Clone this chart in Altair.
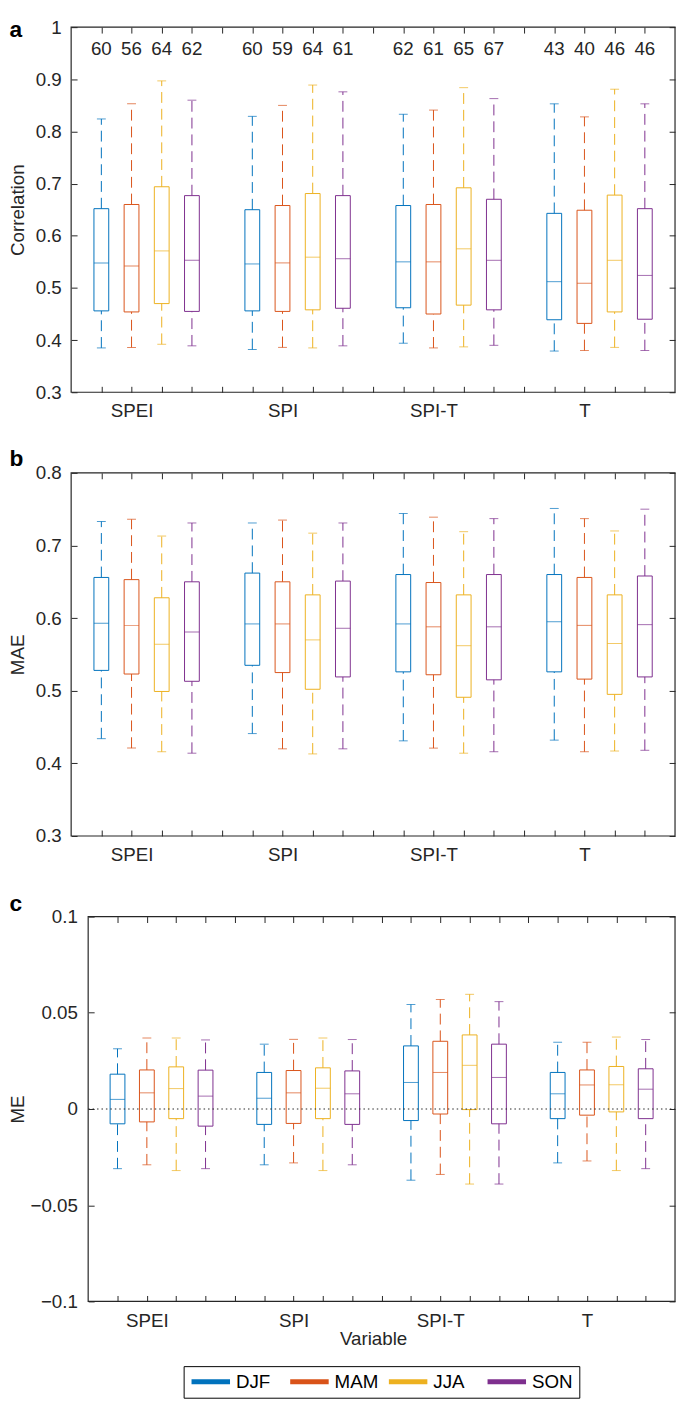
import altair as alt
import pandas as pd

groups = ["SPEI", "SPI", "SPI-T", "T"]
seasons = ["DJF", "MAM", "JJA", "SON"]
season_colors = ["#0072BD", "#D95319", "#EDB120", "#7E2F8E"]

# ---- panel a: Correlation (rows = groups, cols = seasons)
corr_n = [[60, 56, 64, 62], [60, 59, 64, 61], [62, 61, 65, 67], [43, 40, 46, 46]]
corr_hi = [[0.824, 0.853, 0.897, 0.860], [0.829, 0.850, 0.889, 0.876],
           [0.833, 0.841, 0.884, 0.863], [0.853, 0.828, 0.881, 0.853]]
corr_q3 = [[0.652, 0.660, 0.694, 0.677], [0.650, 0.658, 0.681, 0.677],
           [0.658, 0.660, 0.692, 0.670], [0.643, 0.649, 0.678, 0.652]]
corr_med = [[0.548, 0.542, 0.571, 0.553], [0.546, 0.548, 0.559, 0.556],
            [0.550, 0.550, 0.575, 0.553], [0.512, 0.509, 0.553, 0.524]]
corr_q1 = [[0.456, 0.454, 0.470, 0.455], [0.456, 0.455, 0.458, 0.461],
           [0.462, 0.450, 0.467, 0.458], [0.439, 0.432, 0.454, 0.440]]
corr_lo = [[0.385, 0.386, 0.392, 0.389], [0.382, 0.386, 0.385, 0.389],
           [0.394, 0.385, 0.387, 0.390], [0.379, 0.380, 0.386, 0.380]]

# ---- panel b: MAE
mae_hi = [[0.733, 0.736, 0.713, 0.731], [0.731, 0.735, 0.717, 0.731],
          [0.744, 0.739, 0.719, 0.737], [0.751, 0.737, 0.720, 0.750]]
mae_q3 = [[0.656, 0.653, 0.628, 0.650], [0.662, 0.650, 0.632, 0.651],
          [0.660, 0.649, 0.632, 0.660], [0.660, 0.656, 0.632, 0.658]]
mae_med = [[0.593, 0.590, 0.564, 0.581], [0.592, 0.592, 0.570, 0.586],
           [0.592, 0.588, 0.562, 0.588], [0.595, 0.590, 0.565, 0.591]]
mae_q1 = [[0.528, 0.523, 0.499, 0.513], [0.535, 0.525, 0.502, 0.519],
          [0.526, 0.522, 0.491, 0.515], [0.526, 0.516, 0.495, 0.519]]
mae_lo = [[0.434, 0.421, 0.416, 0.414], [0.441, 0.420, 0.413, 0.420],
          [0.431, 0.421, 0.414, 0.416], [0.432, 0.416, 0.417, 0.418]]

# ---- panel c: ME
me_hi = [[0.0313, 0.0369, 0.0369, 0.0359], [0.0337, 0.0362, 0.0369, 0.0361],
         [0.0543, 0.0569, 0.0596, 0.0558], [0.0347, 0.0347, 0.0374, 0.0361]]
me_q3 = [[0.0181, 0.0203, 0.0219, 0.0202], [0.0190, 0.0200, 0.0214, 0.0198],
         [0.0328, 0.0352, 0.0385, 0.0337], [0.0190, 0.0203, 0.0221, 0.0209]]
me_med = [[0.0050, 0.0084, 0.0106, 0.0067], [0.0056, 0.0084, 0.0108, 0.0079],
          [0.0138, 0.0190, 0.0227, 0.0164], [0.0079, 0.0125, 0.0126, 0.0103]]
me_q1 = [[-0.0077, -0.0067, -0.0050, -0.0089], [-0.0080, -0.0075, -0.0050, -0.0080],
         [-0.0060, -0.0026, -0.0003, -0.0077], [-0.0050, -0.0032, -0.0015, -0.0050]]
me_lo = [[-0.031, -0.029, -0.032, -0.031], [-0.029, -0.028, -0.032, -0.029],
         [-0.037, -0.034, -0.039, -0.039], [-0.028, -0.027, -0.032, -0.031]]

corr_ticks = [0.3, 0.4, 0.5, 0.6, 0.7, 0.8, 0.9, 1.0]
mae_ticks = [0.3, 0.4, 0.5, 0.6, 0.7, 0.8]
me_ticks = [-0.1, -0.05, 0, 0.05, 0.1]

FONT = "Liberation Sans"
AX = "#262626"
FS = 19


def box_table(hi, q3, med, q1, lo, n=None):
    rows = []
    for gi, g in enumerate(groups):
        for si, s in enumerate(seasons):
            r = {"variable": g, "season": s, "pos": 5 * gi + si + 1,
                 "hi": hi[gi][si], "q3": q3[gi][si], "med": med[gi][si],
                 "q1": q1[gi][si], "lo": lo[gi][si]}
            if n is not None:
                r["n"] = n[gi][si]
            rows.append(r)
    return pd.DataFrame(rows)


label_pos = [5 * gi + 2 for gi in range(len(groups))]
label_expr = " : ".join(f"datum.value == {p} ? '{g}'" for p, g in zip(label_pos, groups)) + " : ''"
tick_pos = list(range(1, 5 * len(groups)))

season_scale = alt.Scale(domain=seasons, range=season_colors)
season_legend = alt.Legend(
    orient="none", legendX=114, legendY=1357, direction="horizontal",
    title=None, symbolType="M-3.9,0L3.9,0", symbolSize=100, symbolStrokeWidth=5,
    symbolOffset=12, labelOffset=16, labelFontSize=FS, labelFont=FONT,
    labelColor="black", strokeColor="black", fillColor="white", padding=6,
    columnPadding=0, gridAlign="all", symbolOpacity=1)


def season_color():
    return alt.Color("season:N", scale=season_scale, legend=season_legend)


def panel(df, ydom, yvals, yfmt, ytitle, letter, height, letter_y, xlo=0.0, yoff=0.0,
          ylabpad=10, xtitle=None, counts=False, zero=False):
    xs = alt.Scale(domain=[xlo, 20], nice=False, zero=False, padding=0)
    ys = alt.Scale(domain=ydom, nice=False, zero=False, padding=0)

    frame_df = pd.DataFrame({"x0": [0], "x1": [20], "y0": [ydom[0]], "y1": [ydom[1]]})
    xlab_kw = dict(orient="bottom", values=label_pos, labelExpr=label_expr, ticks=False,
                   tickSize=0, domain=False, grid=False, labelFontSize=FS, labelPadding=10,
                   labelColor=AX, labelFont=FONT)
    if xtitle:
        xlab_kw.update(title=xtitle, titleFontSize=FS, titleFontWeight="normal",
                       titlePadding=0, titleColor=AX, titleFont=FONT)
    else:
        xlab_kw.update(title=None)
    frame = alt.Chart(frame_df).mark_rect(fillOpacity=0, stroke=AX, strokeWidth=1.2).encode(
        x=alt.X("x0:Q", scale=xs, axis=alt.Axis(**xlab_kw)),
        x2="x1:Q",
        y=alt.Y("y0:Q", scale=ys, axis=alt.Axis(
            orient="left", values=yvals, format=yfmt, ticks=False, tickSize=0,
            domain=False, grid=False, labelFontSize=FS, labelPadding=ylabpad,
            labelColor=AX, labelFont=FONT, offset=yoff, title=ytitle,
            titleFontSize=FS, titleFontWeight="normal", titleColor=AX, titleFont=FONT,
            titleAngle=270, titleBaseline="bottom", titleAlign="center",
            titleX=-44 + yoff, titleY=height / 2)),
        y2="y1:Q",
    )

    tick_kw = dict(values=tick_pos, labels=False, domain=False, grid=False, ticks=True,
                   tickSize=6, tickColor=AX, tickWidth=1, title=None)
    ytick_kw = dict(values=yvals, labels=False, domain=False, grid=False, ticks=True,
                    tickSize=6, tickColor=AX, tickWidth=1)

    upper = alt.Chart(df).mark_rule(strokeDash=[11, 6], strokeWidth=1).encode(
        x=alt.X("pos:Q", scale=xs, axis=alt.Axis(orient="bottom", offset=-6, **tick_kw)),
        y=alt.Y("q3:Q", scale=ys, axis=alt.Axis(
            orient="left", offset=yoff - 6, title=letter, titleAngle=0, titleAlign="left",
            titleBaseline="alphabetic", titleFontSize=23, titleFontWeight="bold",
            titleColor="black", titleFont=FONT, titleX=-69 + yoff, titleY=letter_y,
            **ytick_kw)),
        y2="hi:Q", color=season_color())
    lower = alt.Chart(df).mark_rule(strokeDash=[11, 6], strokeWidth=1).encode(
        x=alt.X("pos:Q", scale=xs, axis=alt.Axis(orient="top", offset=-6, **tick_kw)),
        y=alt.Y("lo:Q", scale=ys, axis=alt.Axis(orient="right", offset=-6, title=None, **ytick_kw)),
        y2="q1:Q", color=season_color())

    xn = alt.X("pos:Q", scale=xs, axis=None)
    box = alt.Chart(df).mark_bar(filled=False, size=15, strokeWidth=1).encode(
        x=xn, y=alt.Y("q1:Q", scale=ys, axis=None), y2="q3:Q", color=season_color())
    med = alt.Chart(df).mark_tick(orient="horizontal", size=15, thickness=1).encode(
        x=xn, y=alt.Y("med:Q", scale=ys, axis=None), color=season_color())
    cap_hi = alt.Chart(df).mark_tick(orient="horizontal", size=9, thickness=1).encode(
        x=xn, y=alt.Y("hi:Q", scale=ys, axis=None), color=season_color())
    cap_lo = alt.Chart(df).mark_tick(orient="horizontal", size=9, thickness=1).encode(
        x=xn, y=alt.Y("lo:Q", scale=ys, axis=None), color=season_color())

    layers = [frame, upper, lower, box, med, cap_hi, cap_lo]
    if zero:
        zero_df = pd.DataFrame({"x0": [0], "x1": [20], "y": [0]})
        layers.append(alt.Chart(zero_df).mark_rule(strokeDash=[1.5, 3], color=AX, strokeWidth=1).encode(
            x=alt.X("x0:Q", scale=xs, axis=None), x2="x1:Q",
            y=alt.Y("y:Q", scale=ys, axis=None)))
    if counts:
        layers.append(alt.Chart(df).mark_text(fontSize=FS, font=FONT, color=AX, baseline="middle").encode(
            x=xn, y=alt.YDatum(0.958, type="quantitative", scale=ys, axis=None), text="n:Q"))

    return alt.layer(*layers).resolve_axis(x="independent", y="independent").properties(
        width=612, height=height)


pa = panel(box_table(corr_hi, corr_q3, corr_med, corr_q1, corr_lo, corr_n),
           [0.3, 1.0], corr_ticks, ".1~f", "Correlation", "a", 370, 9, counts=True)
pb = panel(box_table(mae_hi, mae_q3, mae_med, mae_q1, mae_lo),
           [0.3, 0.8], mae_ticks, ".1~f", "MAE", "b", 368, -7)
pc = panel(box_table(me_hi, me_q3, me_med, me_q1, me_lo),
           [-0.1, 0.1], me_ticks, ".2~f", "ME", "c", 390, -6.6, xlo=-0.58, yoff=-17.3,
           ylabpad=11, xtitle="Variable", zero=True)

chart = alt.vconcat(pa, pb, pc, spacing=25.7).properties(padding=0).configure(
    font=FONT).configure_view(stroke="transparent")

chart.save("out.html", embed_options={"renderer": "svg", "actions": False})
